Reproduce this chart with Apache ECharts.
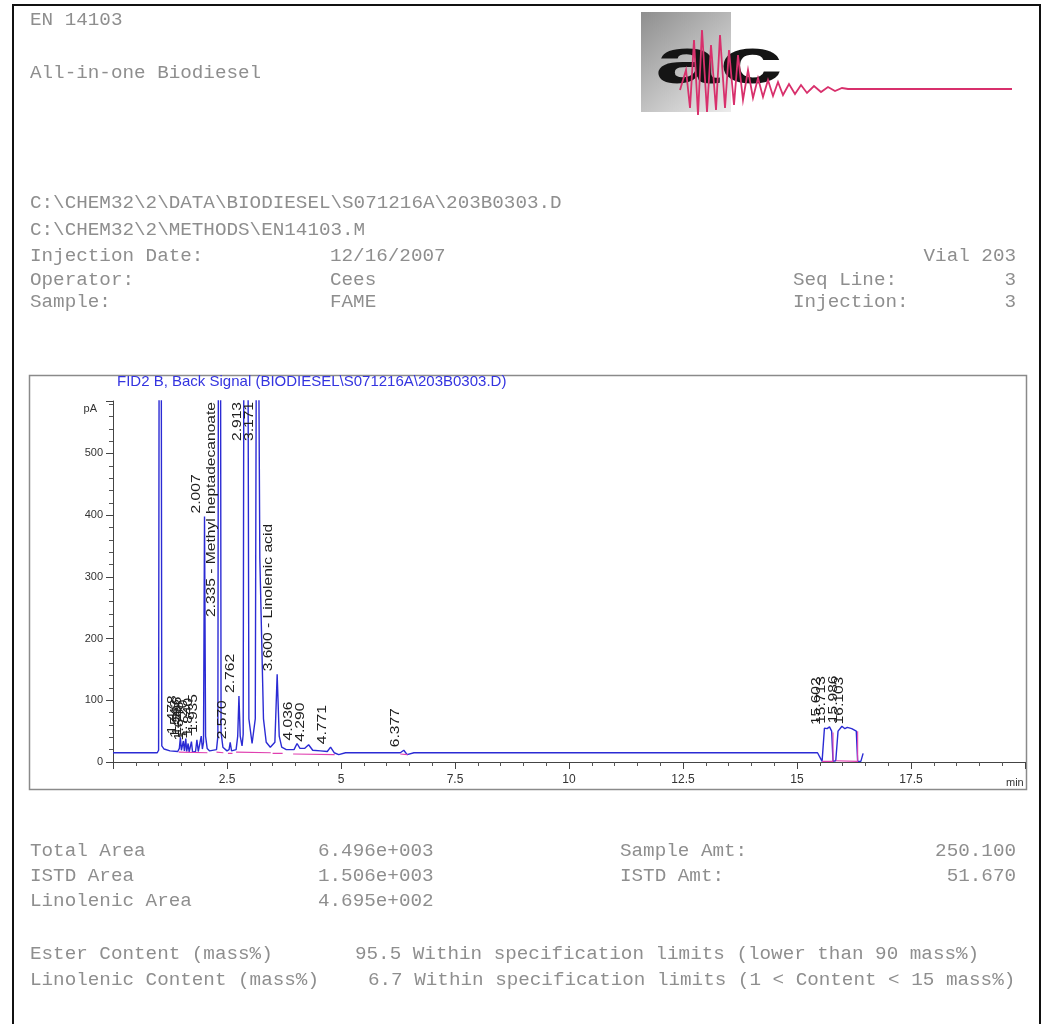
<!DOCTYPE html>
<html>
<head>
<meta charset="utf-8">
<script src="https://cdn.jsdelivr.net/npm/echarts@6/dist/echarts.min.js"></script>
<style>
  html, body { margin: 0; padding: 0; background: #ffffff; }
  #chart { width: 1048px; height: 1024px; }
</style>
</head>
<body>
<div id="chart"></div>
<script>
// FID2 B detector trace: retention time (min) and response (pA)
const signalTime = [
  0.00, 0.97, 1.00, 1.035, 1.07, 1.12, 1.25, 1.42,
  1.455, 1.478, 1.50, 1.525, 1.543, 1.565, 1.58, 1.596, 1.615, 1.632, 1.648, 1.67,
  1.70, 1.720, 1.745, 1.81, 1.840, 1.87, 1.91, 1.935, 1.96, 1.985, 2.007, 2.03, 2.065,
  2.12, 2.27, 2.30, 2.335, 2.37, 2.41, 2.50, 2.545, 2.570, 2.60, 2.70, 2.735, 2.762,
  2.79, 2.83, 2.855, 2.87, 2.913, 2.96, 2.98, 3.05, 3.12, 3.14, 3.171, 3.20, 3.22,
  3.26, 3.30, 3.36, 3.45, 3.55, 3.600, 3.645, 3.70, 3.80, 3.97, 4.036, 4.10, 4.20,
  4.290, 4.38, 4.55, 4.70, 4.771, 4.85, 4.95, 5.10, 6.30, 6.377, 6.45, 6.60,
  15.45, 15.55, 15.602, 15.66, 15.713, 15.76, 15.79, 15.85, 15.90, 15.986, 16.05,
  16.103, 16.20, 16.30, 16.33, 16.40, 16.45
];
const signalPA = [
  15, 15, 19, 2000, 26, 21, 18, 17,
  22, 40, 19, 21, 34, 18, 20, 38, 17, 19, 30, 16,
  18, 33, 16, 17, 36, 17, 19, 42, 21, 32, 398, 42, 22,
  18, 20, 42, 2000, 48, 24, 18, 20, 32, 18, 20, 42, 107,
  42, 26, 45, 700, 2200, 700, 70, 30, 70, 600, 2500, 600, 330,
  200, 70, 32, 24, 32, 142, 42, 24, 20, 20, 30, 22, 22,
  28, 19, 18, 17, 24, 15, 12, 15, 15, 19, 12, 15,
  15, 1, 55, 54, 57, 50, 1, 2, 50, 58, 54,
  56, 54, 50, 1, 1, 14
];

// Integration baselines and drop lines ('-' separates segments)
const baseTime = [
  1.44, 2.07, 2.07, 2.27, 2.42, 2.42, 2.52, 2.62, 2.62, 2.70, 3.46, 3.46,
  3.50, 3.72, 3.72, 3.95, 4.86, 4.86, 6.30, 6.46, 6.46,
  15.55, 15.79, 15.79, 15.79, 15.85, 16.33, 16.33
];
const basePA = [
  16, 15, '-', 16, 15, '-', 14, 14, '-', 16, 15, '-',
  14, 14, '-', 13, 12, '-', 13, 12, '-',
  1, 1, 48, '-', 2, 1, 50
];

// Peak annotations: retention time, apex height (pA) and printed text
const peakTime = [
  1.478, 1.543, 1.596, 1.648, 1.720, 1.840, 1.935, 2.007, 2.335, 2.570, 2.762,
  2.913, 3.171, 3.600, 4.036, 4.290, 4.771, 6.377, 15.602, 15.713, 15.986, 16.103
];
const peakHeight = [
  40, 34, 38, 30, 33, 36, 42, 398, 2000, 32, 107,
  2200, 2500, 142, 30, 28, 24, 19, 55, 57, 58, 56
];
const peakText = [
  '1.478', '1.543', '1.596', '1.648', '1.720', '1.840', '1.935', '2.007',
  '2.335 - Methyl heptadecanoate', '2.570', '2.762', '2.913', '3.171',
  '3.600 - Linolenic acid', '4.036', '4.290', '4.771', '6.377',
  '15.602', '15.713', '15.986', '16.103'
];

// Axis ranges
const X_MIN = 0, X_MAX = 20, X_STEP = 2.5;
const Y_MIN = 0, Y_MAX = 585, Y_STEP = 100;

// Report header and result lines
const headerLines = [
  { text: 'EN 14103', x: 30, y: 20 },
  { text: 'All-in-one Biodiesel', x: 30, y: 73 },
  { text: 'C:\\CHEM32\\2\\DATA\\BIODIESEL\\S071216A\\203B0303.D', x: 30, y: 203 },
  { text: 'C:\\CHEM32\\2\\METHODS\\EN14103.M', x: 30, y: 230 },
  { text: 'Injection Date:', x: 30, y: 256 },
  { text: '12/16/2007', x: 330, y: 256 },
  { text: 'Operator:', x: 30, y: 280 },
  { text: 'Cees', x: 330, y: 280 },
  { text: 'Seq Line:', x: 793, y: 280 },
  { text: 'Sample:', x: 30, y: 302 },
  { text: 'FAME', x: 330, y: 302 },
  { text: 'Injection:', x: 793, y: 302 },
  { text: 'Total Area', x: 30, y: 851 },
  { text: '6.496e+003', x: 318, y: 851 },
  { text: 'Sample Amt:', x: 620, y: 851 },
  { text: 'ISTD Area', x: 30, y: 876 },
  { text: '1.506e+003', x: 318, y: 876 },
  { text: 'ISTD Amt:', x: 620, y: 876 },
  { text: 'Linolenic Area', x: 30, y: 901 },
  { text: '4.695e+002', x: 318, y: 901 },
  { text: 'Ester Content (mass%)', x: 30, y: 954 },
  { text: '95.5 Within specification limits (lower than 90 mass%)', x: 355, y: 954 },
  { text: 'Linolenic Content (mass%)', x: 30, y: 980 },
  { text: '6.7 Within specification limits (1 < Content < 15 mass%)', x: 368, y: 980 }
];
const headerRight = [
  { text: 'Vial 203', x: 1016, y: 256 },
  { text: '3', x: 1016, y: 280 },
  { text: '3', x: 1016, y: 302 },
  { text: '250.100', x: 1016, y: 851 },
  { text: '51.670', x: 1016, y: 876 }
];

const MONO = '18px "Liberation Mono", "DejaVu Sans Mono", monospace';
const SANS = '"Liberation Sans", Arial, sans-serif';
const TEXT_GREY = '#8e8e8e';

function reportText(item, align) {
  return {
    type: 'text', x: item.x, y: item.y, scaleX: 1.07, silent: true,
    style: {
      text: item.text, font: MONO, fill: TEXT_GREY,
      align: align, textAlign: align,
      verticalAlign: 'middle', textVerticalAlign: 'middle'
    }
  };
}

// Logo trace (decorative)
const logoWave = [
  [680, 90], [686, 70], [690, 108], [694, 40], [698, 115], [702, 30], [707, 112],
  [711, 45], [716, 110], [720, 35], [725, 108], [729, 50], [734, 105], [738, 55],
  [743, 100], [748, 70], [753, 98], [758, 78], [763, 97], [768, 80], [773, 96],
  [778, 82], [783, 95], [789, 84], [795, 94], [801, 85], [807, 93], [814, 86],
  [821, 92], [828, 87], [835, 91], [842, 88], [848, 89], [1012, 89]
];

const graphics = [
  { type: 'rect', silent: true, z: 0,
    shape: { x: 13, y: 5, width: 1027, height: 1040 },
    style: { fill: 'none', stroke: '#111', lineWidth: 2 } },
  { type: 'rect', silent: true, z: 0,
    shape: { x: 29.5, y: 375.5, width: 997, height: 414 },
    style: { fill: 'none', stroke: '#8a8a8a', lineWidth: 1.5 } },
  { type: 'rect', silent: true, z: 0,
    shape: { x: 641, y: 12, width: 90, height: 100 },
    style: { fill: new echarts.graphic.LinearGradient(0, 0, 1, 1, [
      { offset: 0, color: '#8e8e8e' }, { offset: 1, color: '#ececec' }]) } },
  { type: 'text', silent: true, z: 1, x: 655, y: 33, scaleX: 1.8,
    style: { text: 'ac', font: 'bold 64px ' + SANS, fill: '#151515',
      align: 'left', textAlign: 'left' } },
  { type: 'polyline', silent: true, z: 2,
    shape: { points: logoWave },
    style: { stroke: '#d8306c', lineWidth: 1.8, fill: 'none' } },
  { type: 'text', silent: true, z: 2, x: 117, y: 382,
    style: { text: 'FID2 B, Back Signal (BIODIESEL\\S071216A\\203B0303.D)',
      font: '15px ' + SANS, fill: '#3434e0',
      align: 'left', textAlign: 'left', verticalAlign: 'middle', textVerticalAlign: 'middle' } }
];
headerLines.forEach(function (it) { graphics.push(reportText(it, 'left')); });
headerRight.forEach(function (it) { graphics.push(reportText(it, 'right')); });

const signalData = signalTime.map(function (t, i) { return [t, signalPA[i]]; });
const baseData = baseTime.map(function (t, i) { return [t, basePA[i]]; });
const labelData = peakTime.map(function (t, i) { return [t, peakHeight[i]]; });

const chart = echarts.init(document.getElementById('chart'), null, { renderer: 'canvas' });
chart.setOption({
  animation: false,
  backgroundColor: '#ffffff',
  graphic: graphics,
  grid: { left: 113, top: 401, width: 912, height: 361, containLabel: false },
  xAxis: {
    type: 'value', min: X_MIN, max: X_MAX, interval: X_STEP,
    name: 'min', nameLocation: 'end', nameGap: -19,
    nameTextStyle: { color: '#333', fontSize: 11, fontFamily: SANS,
      align: 'left', verticalAlign: 'top', padding: [15, 0, 0, 0] },
    axisLine: { lineStyle: { color: '#444', width: 1 } },
    axisTick: { length: 7, lineStyle: { color: '#444' } },
    minorTick: { show: true, splitNumber: 5, length: 4, lineStyle: { color: '#555' } },
    splitLine: { show: false },
    axisLabel: {
      color: '#333', fontSize: 12, fontFamily: SANS, margin: 12,
      formatter: function (v) { return (v <= X_MIN || v >= X_MAX) ? '' : String(v); }
    }
  },
  yAxis: {
    type: 'value', min: Y_MIN, max: Y_MAX, interval: Y_STEP,
    name: 'pA', nameLocation: 'end', nameGap: -13,
    nameTextStyle: { color: '#333', fontSize: 11, fontFamily: SANS,
      align: 'right', verticalAlign: 'bottom', padding: [0, 16, 0, 0] },
    axisLine: { show: true, lineStyle: { color: '#444', width: 1 } },
    axisTick: { show: true, length: 7, lineStyle: { color: '#444' } },
    minorTick: { show: true, splitNumber: 5, length: 4, lineStyle: { color: '#555' } },
    splitLine: { show: false },
    axisLabel: {
      color: '#333', fontSize: 11, fontFamily: SANS, margin: 10,
      formatter: function (v) { return v % Y_STEP === 0 ? String(v) : ''; }
    }
  },
  series: [
    {
      name: 'FID2 B', type: 'line', data: signalData,
      showSymbol: false, symbol: 'none', clip: true, z: 3,
      lineStyle: { color: '#2b2bd4', width: 1.4 }
    },
    {
      name: 'Integration', type: 'line', data: baseData,
      showSymbol: false, symbol: 'none', clip: true, connectNulls: false, z: 4,
      lineStyle: { color: '#e040b0', width: 1.1 }
    },
    {
      name: 'Peaks', type: 'custom', data: labelData, z: 5, clip: false,
      renderItem: function (params, api) {
        const t = api.value(0), h = api.value(1);
        const off = h > Y_MAX;
        const p = api.coord([t, off ? Y_MAX : h]);
        return {
          type: 'text',
          x: p[0] - 2, y: off ? p[1] + 1 : p[1] - 3,
          rotation: Math.PI / 2, scaleX: 1.3,
          style: {
            text: peakText[params.dataIndex],
            font: '12px ' + SANS, fill: '#1e1e1e',
            align: off ? 'right' : 'left', textAlign: off ? 'right' : 'left',
            verticalAlign: 'bottom', textVerticalAlign: 'bottom'
          }
        };
      }
    }
  ]
});
</script>
</body>
</html>
